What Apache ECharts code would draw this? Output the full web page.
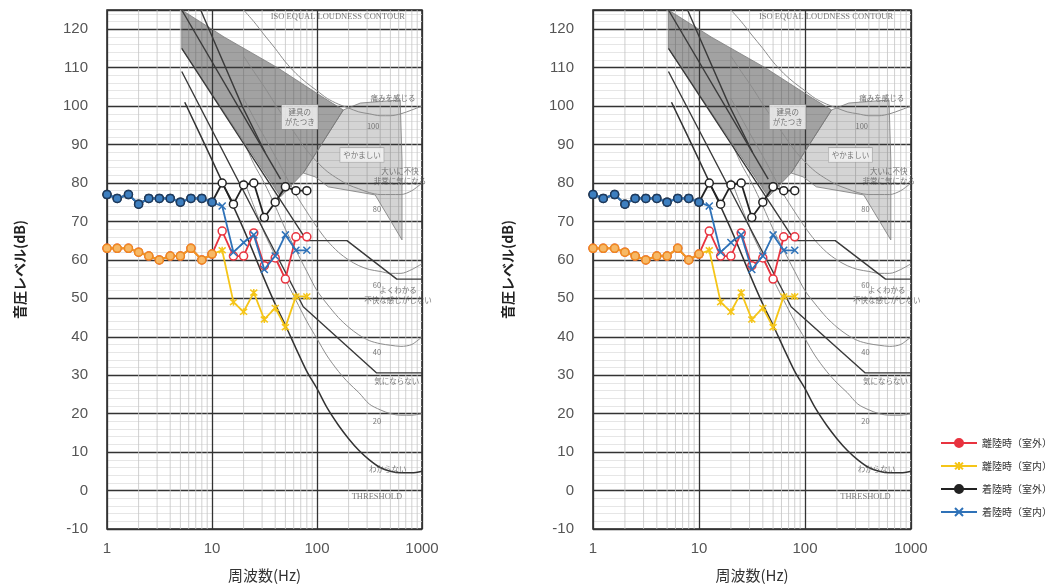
<!DOCTYPE html>
<html>
<head>
<meta charset="utf-8">
<script src="https://cdn.jsdelivr.net/npm/echarts@6/dist/echarts.min.js"></script>
<style>
html,body{margin:0;padding:0;background:#fff}
#chart{width:1055px;height:585px}
</style>
</head>
<body>
<div id="chart"></div>
<script>
// 1/3オクターブ中心周波数
const freqs = [1,1.25,1.6,2,2.5,3.15,4,5,6.3,8,10,12.5,16,20,25,31.5,40,50,63,80];
// 測定値 (dB)
const takeoffOut = [63,63,63,62,61,60,61,61,63,60,61.5,67.5,61,61,67,58.5,60.5,55,66,66];
const takeoffIn  = [63,63,63,62,61,60,61,61,63,60,61.5,62.5,49,46.5,51.5,44.5,47.5,42.5,50.5,50.5];
const landingOut = [77,76,77,74.5,76,76,76,75,76,76,75,80,74.5,79.5,80,71,75,79,78,78];
const landingIn  = [77,76,77,74.5,76,76,76,75,76,76,75,74,62,64.5,66.5,57.5,61,66.5,62.5,62.5];

const names = ['離陸時（室外）','離陸時（室内）','着陸時（室外）','着陸時（室内）'];

// 背景の等ラウドネス曲線など [Hz, dB]
const threshold = [[5.5,101],[10,86],[20,68],[31.5,55],[40,48.5],[50,43],[63,37],[80,31],[100,26.5],[125,21.5],[160,17],[200,13.5],[250,10.5],[315,8],[400,6],[500,5],[630,4.6],[800,4.6],[1000,5]];
const phon20 = [[20,81],[25,74],[31.5,67],[40,61],[50,55],[63,49.5],[80,44],[100,39.5],[125,35],[160,31],[200,28],[250,25.5],[315,22.5],[400,21],[500,20],[630,19.6],[800,19.6],[1000,20]];
const phon40 = [[20,91],[25,85],[31.5,80],[40,74],[50,68],[63,62.5],[80,57],[100,52],[125,48.5],[160,45],[200,42.5],[250,40.5],[315,39],[400,38.2],[500,37.8],[630,37.5],[800,38],[1000,40]];
const phon60 = [[20,102],[25,97],[31.5,92],[40,87],[50,82],[63,77],[80,72.5],[100,68.5],[125,65],[160,62],[200,60],[250,58.5],[315,57.5],[400,57],[500,56.5],[630,56.5],[800,57.5],[1000,59]];
const phon80 = [[20,113],[25,109],[31.5,105],[40,100.5],[50,96.5],[63,92.5],[80,88.5],[100,85.5],[125,83],[160,81],[200,79.5],[250,78.5],[315,77.5],[400,77],[500,77],[630,77],[800,78],[1000,80]];
const phon100 = [[20,125],[25,122],[31.5,118.5],[40,115],[50,111.5],[63,108.5],[80,106],[100,104],[125,102],[160,100.5],[200,99.5],[250,98.5],[315,98],[400,97.5],[500,97.5],[630,98],[800,99],[1000,100]];
const stepUpper = [[5.15,115],[80,65],[193,65],[575,55],[1000,55]];
const stepLower = [[5.15,109],[74,47.8],[370,30.6],[1000,30.6]];
const diag1 = [[5.15,125],[45,81]];
const diag2 = [[7.8,125],[19.4,100],[32,88]];
const darkRegion = [[5.15,125],[10.4,119.7],[13,118],[42,110],[114,102.3],[178,99],[74,82.6],[45,76.4],[5.15,115]];
const lightRegion = [[178,99],[259,100.8],[620,101.6],[645,86],[645,65.2],[358,76.9],[128,79],[96,81.6],[74,82.6]];

// 注記 [Hz, dB, text]
const notes = [
  [158,123.2,'ISO EQUAL LOUDNESS CONTOUR'],
  [68.6,97.2,'建具の\nがたつき'],
  [529,102.1,'痛みを感じる'],
  [343,94.8,'100'],
  [268,87.3,'やかましい'],
  [616,81.8,'大いに不快\n非常に気になる'],
  [372,73.2,'80'],
  [372,53.5,'60'],
  [590,50.9,'よくわかる\n不快な感じがしない'],
  [372,36.0,'40'],
  [576,28.5,'気にならない'],
  [372,18.1,'20'],
  [472,5.6,'わからない'],
  [372,-1.7,'THRESHOLD']
];
const boxedNotes = ['やかましい','建具の\nがたつき'];

const yTicks = {min:-10, max:125, interval:10};
const minorFactors = [2,3,4,5,6,7,8,9];
const minorFreqs = [1,10,100].flatMap(d => minorFactors.map(m => d*m));

const X_MARK = 'path://M0,0L10,10M10,0L0,10';
const STAR_MARK = 'path://M0,0L10,10M10,0L0,10M5,-1L5,11';
const RED = '#e8333f', YELLOW = '#f5c518', BLACK = '#222222', BLUE = '#2f72b8';
const CJK = "'Noto Sans CJK JP', sans-serif";
const NUM = "'Liberation Sans', Arial, sans-serif";

function pairs(vals){ return freqs.map((f,i) => [f, vals[i]]); }
function overlap(a, b){ return freqs.map((f,i) => a[i] === b[i] ? [f, a[i]] : [f, null]); }

function polygon(i, pts, fill){
  return {
    type:'custom', xAxisIndex:i, yAxisIndex:i, silent:true, z:1, clip:true,
    data:[pts[0]],
    renderItem:(params, api) => ({
      type:'polygon',
      shape:{points: pts.map(p => api.coord(p))},
      style:{fill: fill, stroke:'#7a7a7a', lineWidth:0.8}
    })
  };
}
function curve(i, pts, color, width, smooth){
  return {type:'line', xAxisIndex:i, yAxisIndex:i, data:pts, smooth:smooth, symbol:'none', silent:true, z:3,
    lineStyle:{color:color, width:width}};
}

function panel(i){
  const ax = {xAxisIndex:i, yAxisIndex:i};
  const s = [];
  // 対数目盛の補助線
  s.push({type:'custom', ...ax, silent:true, z:1, clip:true,
    data: minorFreqs.map(f => [f, yTicks.min]),
    renderItem:(params, api) => {
      const f = api.value(0);
      const a = api.coord([f, yTicks.min]), b = api.coord([f, yTicks.max]);
      return {type:'line', shape:{x1:a[0],y1:a[1],x2:b[0],y2:b[1]}, style:{stroke:'#c4c4c4', lineWidth:0.8}};
    }});
  s.push(polygon(i, darkRegion, 'rgba(60,60,60,0.48)'));
  s.push(polygon(i, lightRegion, 'rgba(60,60,60,0.22)'));
  [phon20, phon40, phon60, phon80, phon100].forEach(c => s.push(curve(i, c, '#8c8c8c', 1, 0.3)));
  s.push(curve(i, threshold, '#333', 1.5, 0.3));
  [stepUpper, stepLower, diag1, diag2].forEach(c => s.push(curve(i, c, '#3a3a3a', 1.4, false)));
  // 注記
  s.push({type:'scatter', ...ax, silent:true, z:4, symbolSize:1, itemStyle:{color:'rgba(0,0,0,0)'},
    data: notes.map(n => {
      const boxed = boxedNotes.includes(n[2]);
      const serif = /^[A-Z]/.test(n[2]);
      return {value:[n[0], n[1]], label:{show:true, position:'inside', formatter:n[2],
        fontSize: serif ? 8.5 : 7.5, lineHeight:10, color:'#555',
        fontFamily: serif ? "'Liberation Serif', serif" : CJK,
        backgroundColor: boxed ? '#f4f4f4' : 'transparent',
        borderColor: boxed ? '#999' : 'transparent', borderWidth: boxed ? 0.6 : 0,
        padding: boxed ? [2,3] : 0}};
    })});
  // 測定値
  s.push({name:names[2], type:'line', ...ax, data:pairs(landingOut), z:5,
    symbol:'circle', symbolSize:8, lineStyle:{color:BLACK, width:1.8},
    itemStyle:{color:'#fff', borderColor:BLACK, borderWidth:1.5}});
  s.push({name:names[0], type:'line', ...ax, data:pairs(takeoffOut), z:5,
    symbol:'circle', symbolSize:8, lineStyle:{color:RED, width:1.8},
    itemStyle:{color:'#fff', borderColor:RED, borderWidth:1.5}});
  s.push({name:names[3], type:'line', ...ax, data:pairs(landingIn), z:6,
    symbol:X_MARK, symbolSize:7, lineStyle:{color:BLUE, width:1.8},
    itemStyle:{color:BLUE, borderColor:BLUE, borderWidth:1.5}});
  s.push({name:names[1], type:'line', ...ax, data:pairs(takeoffIn), z:6,
    symbol:STAR_MARK, symbolSize:7, lineStyle:{color:YELLOW, width:1.8},
    itemStyle:{color:YELLOW, borderColor:YELLOW, borderWidth:1.5}});
  // 室内外が重なる区間
  s.push({type:'line', ...ax, data:overlap(landingOut, landingIn), z:7, silent:true,
    symbol:'circle', symbolSize:8, lineStyle:{color:'#2f6fb0', width:2},
    itemStyle:{color:'#3d7fc0', borderColor:'#1f3a5c', borderWidth:1.5}});
  s.push({type:'line', ...ax, data:overlap(takeoffOut, takeoffIn), z:7, silent:true,
    symbol:'circle', symbolSize:8, lineStyle:{color:'#f0922c', width:2},
    itemStyle:{color:'#f7b866', borderColor:'#ee8a22', borderWidth:1.5}});
  return s;
}

const grids = [
  {left:107, top:10, width:315, height:519},
  {left:593, top:10, width:318, height:519}
];

const chart = echarts.init(document.getElementById('chart'));
chart.setOption({
  animation:false,
  backgroundColor:'#fff',
  grid: grids.map(g => ({...g, show:true, borderColor:'#222', borderWidth:1.5, backgroundColor:'transparent',
    containLabel:false, outerBoundsMode:'none'})),
  xAxis: grids.map((g,i) => ({
    type:'log', logBase:10, min:1, max:1000, gridIndex:i,
    name:'周波数(Hz)', nameLocation:'middle', nameGap:39,
    nameTextStyle:{fontSize:15, color:'#333', fontFamily:CJK},
    axisLine:{show:false}, axisTick:{show:false},
    axisLabel:{fontSize:15, color:'#555', margin:12, fontFamily:NUM, formatter: v => String(v)},
    splitLine:{show:true, lineStyle:{color:'#333', width:1.3}}
  })),
  yAxis: grids.map((g,i) => ({
    type:'value', gridIndex:i, min:yTicks.min, max:yTicks.max, interval:yTicks.interval,
    name:'音圧レベル(dB)', nameLocation:'middle', nameGap:i === 0 ? 80 : 78,
    nameTextStyle:{fontSize:14, color:'#222', fontFamily:CJK, fontWeight:'bold'},
    axisLine:{show:false}, axisTick:{show:false},
    axisLabel:{fontSize:15, color:'#555', margin:19, fontFamily:NUM, showMaxLabel:false},
    splitLine:{show:true, lineStyle:{color:'#333', width:1.3}},
    minorTick:{show:false, splitNumber:5},
    minorSplitLine:{show:true, lineStyle:{color:'#e0e0e0', width:0.8}}
  })),
  legend:{
    orient:'vertical', left:935, top:433, itemGap:13, itemWidth:36, itemHeight:10,
    textStyle:{fontSize:10, color:'#333', fontFamily:CJK},
    data:[
      {name:names[0], itemStyle:{color:RED, borderColor:RED}},
      {name:names[1], itemStyle:{color:YELLOW, borderColor:YELLOW}},
      {name:names[2], itemStyle:{color:BLACK, borderColor:BLACK}},
      {name:names[3], itemStyle:{color:BLUE, borderColor:BLUE}}
    ]
  },
  series: [...panel(0), ...panel(1)]
});
</script>
</body>
</html>
